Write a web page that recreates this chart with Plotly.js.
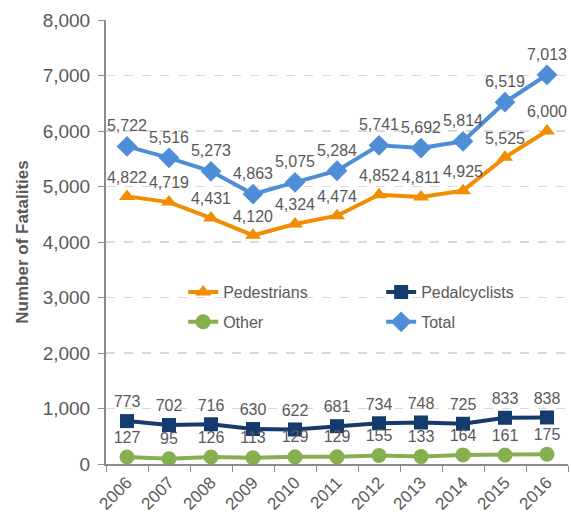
<!DOCTYPE html>
<html><head><meta charset="utf-8">
<script src="https://cdn.plot.ly/plotly-3.0.1.min.js"></script>
<style>html,body{margin:0;padding:0;background:#fff}#c{width:571px;height:514px}</style>
</head><body><div id="c"></div>
<script>
const years = ['2006','2007','2008','2009','2010','2011','2012','2013','2014','2015','2016'];
const pedestrians = [4822,4719,4431,4120,4324,4474,4852,4811,4925,5525,6000];
const pedalcyclists = [773,702,716,630,622,681,734,748,725,833,838];
const other = [127,95,126,113,129,129,155,133,164,161,175];
const total = [5722,5516,5273,4863,5075,5284,5741,5692,5814,6519,7013];

const FONT = 'Liberation Sans, Arial, sans-serif';
const txtFont = {family:FONT, size:16, color:'#595959'};
function fmt(a){return a.map(v=>v.toLocaleString('en-US'));}
function tr(name, y, color, sym, size, leg, lw){
  return {type:'scatter', mode:'lines+markers+text', name:name, x:years, y:y, legend:leg,
    legendwidth:lw,
    line:{color:color, width:4}, marker:{color:color, symbol:sym, size:size},
    text:fmt(y), textposition:'top center', textfont:txtFont, cliponaxis:false};
}
const data = [
  tr('Pedestrians', pedestrians, '#F28C00', 'triangle-up', 14, 'legend', 153),
  tr('Pedalcyclists', pedalcyclists, '#153A6E', 'square', 14, 'legend', 100),
  tr('Other', other, '#86B050', 'circle', 15, 'legend2', 153),
  tr('Total', total, '#4F8ED6', 'diamond', 16, 'legend2', 100)
];
const legBase = {orientation:'h', x:0.167, xanchor:'left', yanchor:'middle',
    traceorder:'normal',
    font:{family:FONT, size:16, color:'#595959'}, bgcolor:'rgba(0,0,0,0)'};
const layout = {
  width:571, height:514,
  margin:{l:106, r:3, t:20, b:50},
  paper_bgcolor:'#fff', plot_bgcolor:'#fff',
  font:{family:FONT, color:'#595959'},
  showlegend:true,
  legend:Object.assign({}, legBase, {y:0.387}),
  legend2:Object.assign({}, legBase, {y:0.32}),
  xaxis:{type:'category', range:[-0.5,10.5], tickson:'boundaries', ticks:'outside', ticklen:6,
    tickcolor:'#8c8c8c', showline:true, linecolor:'#8c8c8c', linewidth:2, showgrid:false,
    tickangle:-45, tickfont:{family:FONT, size:17, color:'#595959'}},
  yaxis:{range:[0,8000], dtick:1000, tickformat:',d', ticks:'outside', ticklen:6, tickcolor:'#8c8c8c',
    ticklabelstandoff:4,
    showline:true, linecolor:'#8c8c8c', linewidth:2, showgrid:true, gridcolor:'#d9d9d9', griddash:'dash', gridwidth:1.5,
    zeroline:false, tickfont:{family:FONT, size:19, color:'#595959'},
    title:{text:'<b>Number of Fatalities</b>', font:{family:FONT, size:17, color:'#595959'}, standoff:10}}
};
Plotly.newPlot('c', data, layout, {displayModeBar:false, staticPlot:true});
</script></body></html>
